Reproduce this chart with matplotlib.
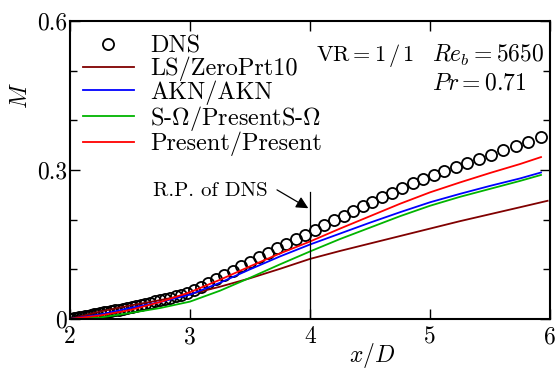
import matplotlib
matplotlib.use("Agg")
import matplotlib.pyplot as plt

plt.rcParams['font.family'] = 'cmr10'
plt.rcParams['mathtext.fontset'] = 'cm'
plt.rcParams['axes.formatter.use_mathtext'] = True
plt.rcParams['axes.unicode_minus'] = False

# DNS data
dns_x = [2.000, 2.018, 2.037, 2.057, 2.078, 2.100, 2.123, 2.147, 2.172, 2.198,
         2.225, 2.253, 2.282, 2.312, 2.343, 2.375, 2.408, 2.442, 2.477, 2.513,
         2.550, 2.588, 2.627, 2.667, 2.708, 2.750, 2.793, 2.837, 2.882, 2.928,
         2.975, 3.030, 3.090, 3.150, 3.215, 3.285, 3.355, 3.425, 3.500, 3.575,
         3.650, 3.725, 3.800, 3.880, 3.960, 4.040, 4.120, 4.200, 4.280, 4.360,
         4.440, 4.520, 4.600, 4.685, 4.770, 4.855, 4.940, 5.030, 5.120, 5.215,
         5.310, 5.410, 5.510, 5.610, 5.715, 5.820, 5.925]
dns_y = [0.000, 0.001, 0.002, 0.003, 0.004, 0.005, 0.006, 0.007, 0.009, 0.010,
         0.011, 0.013, 0.014, 0.015, 0.017, 0.018, 0.019, 0.021, 0.022, 0.024,
         0.026, 0.028, 0.031, 0.033, 0.036, 0.038, 0.041, 0.043, 0.046, 0.049,
         0.053, 0.058, 0.065, 0.072, 0.080, 0.089, 0.097, 0.106, 0.115, 0.124,
         0.133, 0.142, 0.151, 0.161, 0.170, 0.180, 0.189, 0.199, 0.208, 0.218,
         0.227, 0.236, 0.245, 0.254, 0.264, 0.273, 0.282, 0.290, 0.298, 0.306,
         0.315, 0.322, 0.331, 0.340, 0.348, 0.357, 0.367]

# model curves
mx = [2.0, 2.25, 2.5, 2.75, 3.0, 3.25, 3.5, 3.75, 4.0, 4.25, 4.5, 4.75, 5.0,
      5.25, 5.5, 5.75, 5.925]
ls_x = [2.0, 2.25, 2.5, 2.75, 3.0, 3.25, 3.5, 3.75, 4.0, 4.25, 4.5, 4.75, 5.0,
        5.25, 5.5, 5.75, 5.98]
ls_y = [0.0, 0.015, 0.027, 0.038, 0.050, 0.065, 0.082, 0.101, 0.121, 0.137,
        0.152, 0.167, 0.182, 0.197, 0.211, 0.225, 0.238]
akn_y = [0.0, 0.009, 0.022, 0.034, 0.049, 0.073, 0.100, 0.126, 0.150, 0.172,
         0.194, 0.215, 0.235, 0.252, 0.268, 0.283, 0.295]
som_y = [0.0, 0.003, 0.012, 0.022, 0.035, 0.057, 0.083, 0.110, 0.136, 0.161,
         0.184, 0.207, 0.228, 0.246, 0.262, 0.278, 0.290]
pre_y = [0.0, 0.007, 0.018, 0.034, 0.054, 0.079, 0.106, 0.132, 0.156, 0.182,
         0.207, 0.232, 0.255, 0.275, 0.294, 0.312, 0.326]

labels = ['DNS', 'LS/ZeroPrt10', 'AKN/AKN', r'S-$\Omega$/PresentS-$\Omega$', 'Present/Present']
colors = ['#800000', '#0000ff', '#00b400', '#ff0000']

fig = plt.figure(figsize=(5.58, 3.69), dpi=100)
ax = fig.add_axes([70/558, 1-319/369, 480/558, 298/369])

ax.plot(dns_x, dns_y, 'o', ms=8.0, mfc='none', mec='black', mew=1.3, label=labels[0])
ax.plot(ls_x, ls_y, '-', color=colors[0], lw=1.3, label=labels[1])
ax.plot(mx, akn_y, '-', color=colors[1], lw=1.3, label=labels[2])
ax.plot(mx, som_y, '-', color=colors[2], lw=1.3, label=labels[3])
ax.plot(mx, pre_y, '-', color=colors[3], lw=1.3, label=labels[4])

ax.plot([4, 4], [0, 0.255], color='black', lw=0.9)
ax.text(3.65, 0.258, 'R.P. of DNS', fontsize=15, ha='right', va='center')
ax.annotate('', xy=(3.986, 0.223), xytext=(3.725, 0.26),
            arrowprops=dict(arrowstyle='-|>', color='black', lw=0.9,
                            mutation_scale=18, shrinkA=0, shrinkB=0))

ax.set_xlim(2, 6)
ax.set_ylim(0, 0.6)
ax.set_xticks([2, 3, 4, 5, 6], labels=['2', '3', '4', '5', '6'])
ax.set_yticks([0, 0.3, 0.6], labels=['0', '0.3', '0.6'])
ax.set_yticks([0.1, 0.2, 0.4, 0.5], minor=True)
ax.tick_params(which='both', direction='in', top=True, right=True, labelsize=17, width=1.0)
ax.tick_params(which='major', length=7)
ax.tick_params(which='minor', length=5)
ax.tick_params(axis='x', pad=5)
ax.tick_params(axis='y', pad=2)
for s in ax.spines.values():
    s.set_linewidth(1.5)

ax.set_xlabel(r'$x/D$', fontsize=17)
ax.xaxis.set_label_coords(0.63, -0.075)
ax.set_ylabel(r'$M$', fontsize=17)
ax.yaxis.set_label_coords(-0.08, 0.75)

ax.text(0.615, 0.885, r'$\mathrm{VR} = 1\,/\,1$', transform=ax.transAxes, fontsize=16,
        ha='center', va='center')
ax.text(0.754, 0.885, r'$Re_b = 5650$', transform=ax.transAxes, fontsize=17,
        ha='left', va='center')
ax.text(0.754, 0.79, r'$Pr = 0.71$', transform=ax.transAxes, fontsize=17,
        ha='left', va='center')

ax.legend(loc='upper left', bbox_to_anchor=(0.027, 0.951), frameon=False, fontsize=17.5,
          handlelength=2.1, handletextpad=0.65, labelspacing=-0.04, borderpad=0,
          borderaxespad=0)

fig.savefig('out.png', dpi=100)
